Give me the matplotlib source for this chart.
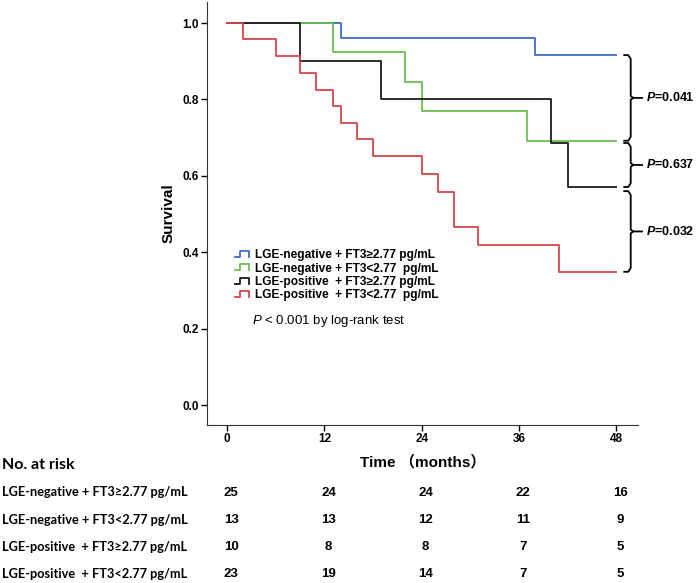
import matplotlib
matplotlib.use("Agg")
import matplotlib.pyplot as plt
from matplotlib.lines import Line2D
from matplotlib.legend_handler import HandlerBase
import matplotlib.transforms as mtransforms

plt.rcParams['font.family'] = ['Liberation Sans', 'Noto Sans CJK SC']
plt.rcParams['mathtext.fontset'] = 'custom'
plt.rcParams['mathtext.it'] = 'Liberation Sans:italic'
plt.rcParams['mathtext.bf'] = 'Liberation Sans:bold'
plt.rcParams['mathtext.bfit'] = 'Liberation Sans:bold:italic'

# Kaplan-Meier steps (time in months, survival)
blue_t = [0, 14, 38, 48]
blue_s = [1.0, 0.96, 0.916, 0.916]
green_t = [0, 13, 22, 24, 37, 48]
green_s = [1.0, 0.923, 0.846, 0.770, 0.692, 0.692]
black_t = [0, 9, 19, 40, 42, 48]
black_s = [1.0, 0.90, 0.80, 0.686, 0.571, 0.571]
red_t = [0, 2, 6, 9, 11, 13, 14, 16, 18, 24, 26, 28, 31, 41, 48]
red_s = [1.0, 0.957, 0.913, 0.870, 0.826, 0.783, 0.739, 0.696, 0.652,
         0.606, 0.558, 0.465, 0.419, 0.349, 0.349]

labels = ['LGE-negative + FT3\u22652.77 pg/mL',
          'LGE-negative + FT3<2.77  pg/mL',
          'LGE-positive  + FT3\u22652.77 pg/mL',
          'LGE-positive  + FT3<2.77  pg/mL']
colors = ['#3f6cc2', '#6cbd4e', '#1a1a1a', '#d6444c']

# pairwise comparisons (upper end, lower end, p-value)
p_pairs = [(0.916, 0.692, '=0.041'),
           (0.686, 0.571, '=0.637'),
           (0.560, 0.349, '=0.032')]

# numbers at risk
risk_times = [0, 12, 24, 36, 48]
risk_labels = ['LGE-negative + FT3\u22652.77 pg/mL',
               'LGE-negative + FT3<2.77 pg/mL',
               'LGE-positive  + FT3\u22652.77 pg/mL',
               'LGE-positive  + FT3<2.77 pg/mL']
risk_counts = [[25, 24, 24, 22, 16],
               [13, 13, 12, 11, 9],
               [10, 8, 8, 7, 5],
               [23, 19, 14, 7, 5]]


class StepHandler(HandlerBase):
    def create_artists(self, legend, orig_handle, xdescent, ydescent,
                       width, height, fontsize, trans):
        x0, w, h = -xdescent, width, height
        xs = [x0, x0 + 0.35 * w, x0 + 0.35 * w, x0 + w, x0 + w]
        ys = [0.15 * h, 0.15 * h, 0.85 * h, 0.85 * h, 0.15 * h]
        ln = Line2D(xs, ys, color=orig_handle.get_color(), lw=1.3)
        ln.set_transform(trans)
        return [ln]


fig = plt.figure(figsize=(6.97, 5.83), dpi=100)
ax = fig.add_axes([207 / 697, 1 - 425 / 583, 431 / 697, 423 / 583])

handles = []
for t, s, c, lab in zip([blue_t, green_t, black_t, red_t],
                        [blue_s, green_s, black_s, red_s], colors, labels):
    h, = ax.step(t, s, where='post', color=c, lw=1.3, label=lab)
    handles.append(h)

ax.set_xlim(-2.5, 50.7)
ax.set_ylim(-0.052, 1.055)
ax.set_xticks(risk_times)
ax.set_yticks([0.0, 0.2, 0.4, 0.6, 0.8, 1.0])
ax.set_yticklabels(['0.0', '0.2', '0.4', '0.6', '0.8', '1.0'])
for sp in ['top', 'right']:
    ax.spines[sp].set_visible(False)
ax.spines['left'].set_color('#333333')
ax.spines['bottom'].set_color('#333333')
ax.tick_params(direction='out', length=4, width=1, labelsize=8.5, pad=2)
for lb in ax.get_xticklabels() + ax.get_yticklabels():
    lb.set_fontweight('bold')

ax.set_ylabel('Survival', fontsize=11, fontweight='bold', labelpad=5)
ax.set_xlabel('Time \uff08months\uff09', fontsize=11, fontweight='bold', labelpad=7)

leg = ax.legend(handles=handles, handler_map={Line2D: StepHandler()},
                loc='upper left', bbox_to_anchor=(0.05, 0.43), frameon=False,
                fontsize=8.6, handlelength=1.2, handletextpad=0.5,
                labelspacing=0.12, borderpad=0)
for txt in leg.get_texts():
    txt.set_fontweight('bold')

ax.text(0.105, 0.245, r'$\mathit{P}$ < 0.001 by log-rank test',
        transform=ax.transAxes, fontsize=9.5, ha='left', va='center')

# brackets with p-values
for top, bot, pv in p_pairs:
    xa, xb, xc = 49.0, 49.8, 51.2
    mid = (top + bot) / 2
    ax.plot([xa, xb - 0.3, xb, xb, xb + 0.3, xc], [top, top, top - 0.01, mid + 0.005, mid, mid],
            color='black', lw=1.3, clip_on=False)
    ax.plot([xa, xb - 0.3, xb, xb, xb + 0.3], [bot, bot, bot + 0.01, mid - 0.005, mid],
            color='black', lw=1.3, clip_on=False)
    ax.text(xc + 0.5, mid, r'$\mathbfit{P}$' + pv, fontsize=9, fontweight='bold',
            ha='left', va='center', clip_on=False)

# risk table
fig.text(2 / 697, 1 - 465 / 583, 'No. at risk', fontsize=11.5, fontweight='bold',
         family='Lato', ha='left', va='center')
trans = mtransforms.blended_transform_factory(ax.transData, fig.transFigure)
row_y = [492.5, 520, 547, 574]
for lab, counts, py in zip(risk_labels, risk_counts, row_y):
    fig.text(2 / 697, 1 - py / 583, lab, fontsize=9.2, fontweight='bold',
             family='Lato', ha='left', va='center')
    for tm, n in zip(risk_times, counts):
        ax.text(tm + 0.5, 1 - py / 583, str(n), transform=trans, fontsize=9.5,
                fontweight='bold', ha='center', va='center', clip_on=False)

fig.savefig('out.png', dpi=100)
